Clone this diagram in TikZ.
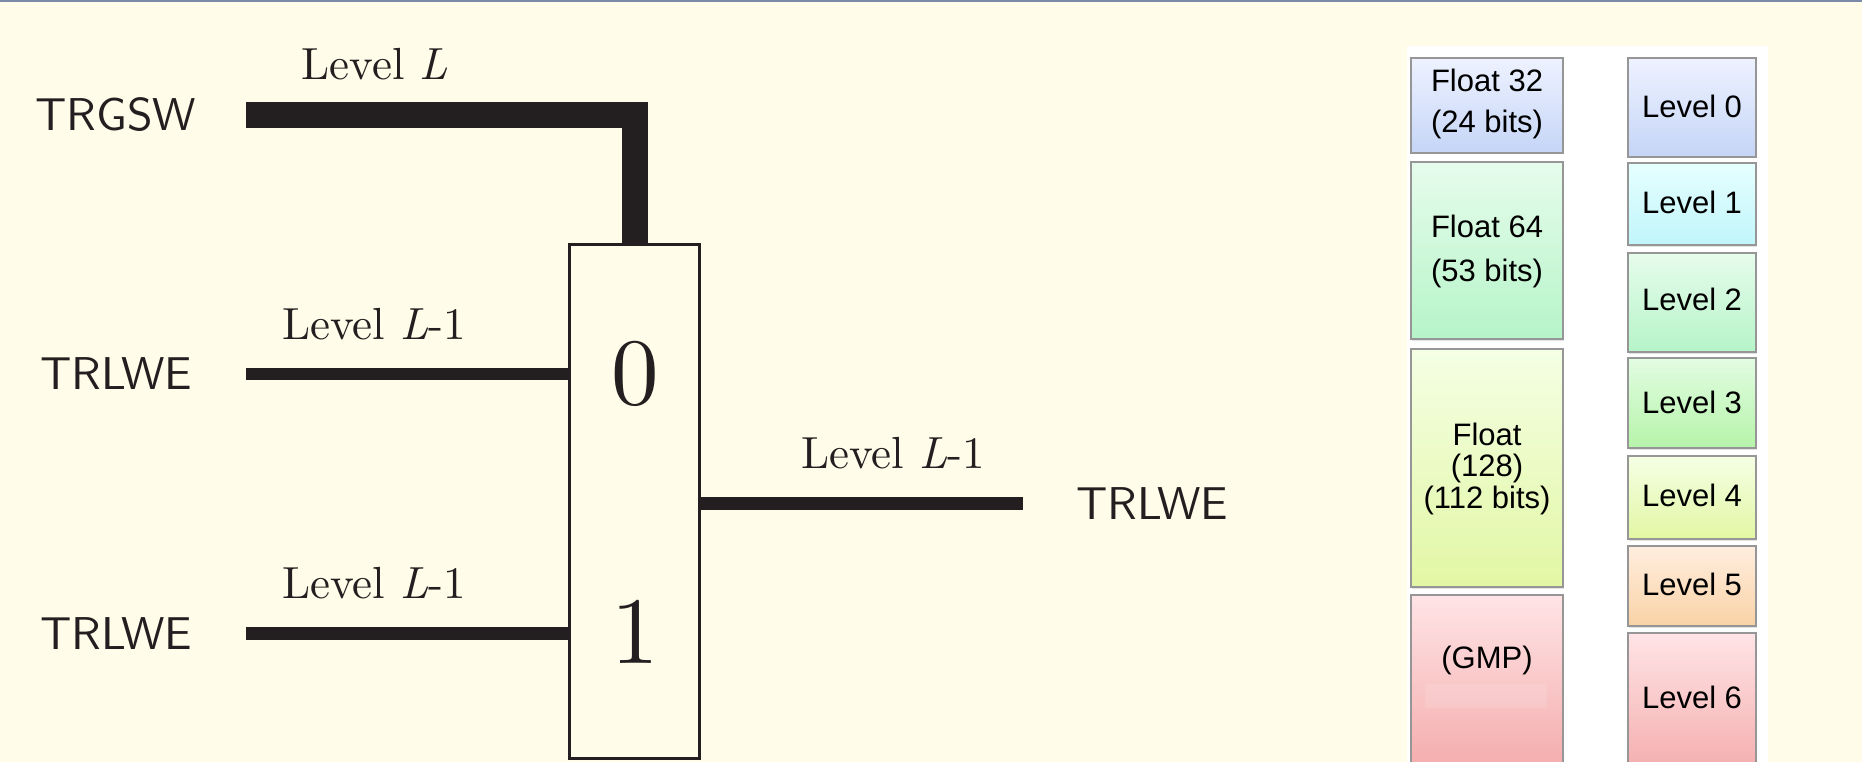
\documentclass[tikz,border=0pt]{standalone}
\usepackage{fontspec}
\newfontfamily\panelfont{Liberation Sans}
\newfontfamily\romten{lmroman10-regular.otf}[ItalicFont=lmroman10-italic.otf]
\newfontfamily\sansten{lmsans10-regular.otf}
\usetikzlibrary{shadows}

\definecolor{paper}{RGB}{255,252,233}
\definecolor{rulecol}{RGB}{122,138,168}
\definecolor{ink}{RGB}{35,31,32}
\definecolor{cellline}{RGB}{150,150,150}
\definecolor{blueT}{RGB}{238,242,255}
\definecolor{blueB}{RGB}{197,213,247}
\definecolor{cyanT}{RGB}{230,255,255}
\definecolor{cyanB}{RGB}{192,245,250}
\definecolor{mintT}{RGB}{230,252,236}
\definecolor{mintB}{RGB}{182,244,200}
\definecolor{greenT}{RGB}{226,252,226}
\definecolor{greenB}{RGB}{182,244,170}
\definecolor{yelT}{RGB}{244,255,228}
\definecolor{yelB}{RGB}{226,247,164}
\definecolor{peachT}{RGB}{255,238,223}
\definecolor{peachB}{RGB}{249,210,166}
\definecolor{pinkT}{RGB}{255,228,230}
\definecolor{pinkB}{RGB}{242,162,162}

\begin{document}
\begin{tikzpicture}[x=1pt,y=-1pt,
  wire/.style={draw=ink,line width=12.5pt},
  bus/.style={draw=ink,line width=26pt,line join=miter},
  muxbox/.style={draw=ink,fill=paper,line width=3pt,inner sep=0pt,outer sep=0pt,
                 minimum width=130pt,minimum height=514pt},
  sflab/.style={font=\sansten\fontsize{46}{55}\selectfont,text=ink,anchor=base,inner sep=0pt},
  lvl/.style={font=\romten\fontsize{45}{54}\selectfont,text=ink,anchor=base,inner sep=0pt},
  digit/.style={font=\romten\fontsize{95}{110}\selectfont,text=ink,anchor=base,inner sep=0pt},
  cell/.style={draw=cellline,line width=1.2pt,inner sep=0pt,
               drop shadow={shadow xshift=1.2pt,shadow yshift=-1.5pt,opacity=.22}},
  lcell/.style={cell,minimum width=152pt},
  rcell/.style={cell,minimum width=128pt},
  ptxt/.style={font=\panelfont\fontsize{31}{37}\selectfont,anchor=base,inner sep=0pt}]

\useasboundingbox (0,0) rectangle (1862,762);
\fill[paper] (0,0) rectangle (1862,762);
\fill[rulecol] (0,0) rectangle (1862,2);

% multiplexer
\node[muxbox] (mux) at (634.5,501.75) {};
\node[digit] (sel0) at (635,404) {0};
\node[digit] (sel1) at (635,663) {1};

% control input (thick)
\coordinate (g0) at (246,115);
\draw[bus] (g0) -- (g0 -| mux.north) -- (mux.north);

% data inputs and output
\coordinate (a0) at (246,374);
\coordinate (a1) at (246,633.5);
\coordinate (out) at (1023,503.5);
\draw[wire] (a0) -- (a0 -| mux.west);
\draw[wire] (a1) -- (a1 -| mux.west);
\draw[wire] (out -| mux.east) -- (out);

% labels
\node[sflab] (trgsw) at (116,131) {TRGSW};
\node[sflab] (trlwe0) at (116,389) {TRLWE};
\node[sflab] (trlwe1) at (116,649) {TRLWE};
\node[sflab] (trlweo) at (1152,519) {TRLWE};
\node[lvl] (lvlg) at (375,80) {Level \textit{L}};
\node[lvl] (lvl0) at (374,339) {Level \textit{L}-1};
\node[lvl] (lvl1) at (374,598) {Level \textit{L}-1};
\node[lvl] (lvlo) at (893,468) {Level \textit{L}-1};

% precision table
\begin{scope}
\clip (0,0) rectangle (1862,762);
\fill[white] (1407,46) rectangle (1768,762);

\node[lcell,top color=blueT,bottom color=blueB,minimum height=95pt] (f32) at (1487,105.5) {};
\node[lcell,top color=mintT,bottom color=mintB,minimum height=177pt] (f64) at (1487,250.5) {};
\node[lcell,top color=yelT,bottom color=yelB,minimum height=238pt] (f128) at (1487,468) {};
\node[lcell,top color=pinkT,bottom color=pinkB,minimum height=205pt] (gmp) at (1487,697.5) {};
\fill[white,opacity=.12] (1425,684) rectangle (1547,708);

\node[rcell,top color=blueT,bottom color=blueB,minimum height=99pt] (l0) at (1692,107.5) {};
\node[rcell,top color=cyanT,bottom color=cyanB,minimum height=82pt] (l1) at (1692,204) {};
\node[rcell,top color=mintT,bottom color=mintB,minimum height=99pt] (l2) at (1692,302.5) {};
\node[rcell,top color=greenT,bottom color=greenB,minimum height=90pt] (l3) at (1692,403) {};
\node[rcell,top color=yelT,bottom color=yelB,minimum height=83pt] (l4) at (1692,497.5) {};
\node[rcell,top color=peachT,bottom color=peachB,minimum height=80pt] (l5) at (1692,586) {};
\node[rcell,top color=pinkT,bottom color=pinkB,minimum height=167pt] (l6) at (1692,716.5) {};
\end{scope}

\node[ptxt] (t32a) at (1487,92) {Float 32};
\node[ptxt] (t32b) at (1487,133) {(24 bits)};
\node[ptxt] (t64a) at (1487,237) {Float 64};
\node[ptxt] (t64b) at (1487,281) {(53 bits)};
\node[ptxt] (t128a) at (1487,445) {Float};
\node[ptxt] (t128b) at (1487,476) {(128)};
\node[ptxt] (t128c) at (1487,508) {(112 bits)};
\node[ptxt] (tgmp) at (1487,668) {(GMP)};

\node[ptxt] (tl0) at (1692,118) {Level 0};
\node[ptxt] (tl1) at (1692,214) {Level 1};
\node[ptxt] (tl2) at (1692,310) {Level 2};
\node[ptxt] (tl3) at (1692,413) {Level 3};
\node[ptxt] (tl4) at (1692,506) {Level 4};
\node[ptxt] (tl5) at (1692,595) {Level 5};
\node[ptxt] (tl6) at (1692,708) {Level 6};
\end{tikzpicture}
\end{document}
